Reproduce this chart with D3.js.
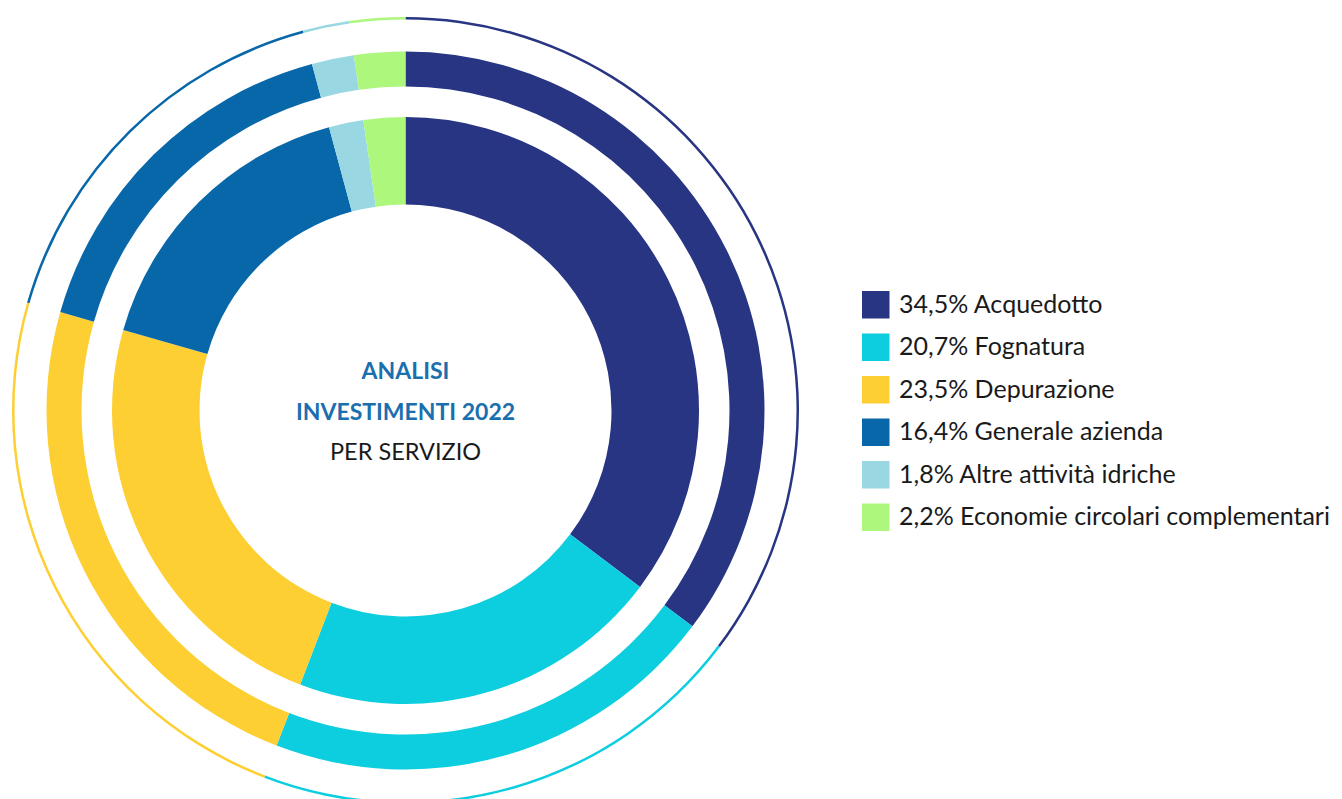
<!DOCTYPE html>
<html>
<head>
<meta charset="utf-8">
<script src="https://cdn.jsdelivr.net/npm/d3@7"></script>
<style>
  html, body { margin: 0; padding: 0; background: #fff; }
  svg { display: block; font-family: Lato, "Noto Sans", sans-serif; }
</style>
</head>
<body>
<svg id="chart" width="1342" height="799"></svg>
<script>
// categories and colours
const categories = ['Acquedotto', 'Fognatura', 'Depurazione', 'Generale azienda', 'Altre attività idriche', 'Economie circolari complementari'];
const colors = ['#283583', '#0dcedf', '#fdcf33', '#0867a9', '#99d8e2', '#adf77d'];
// percentages printed in the legend
const legendValues = [34.5, 20.7, 23.5, 16.4, 1.8, 2.2];
const sliceShares = [35.3, 20.6, 23.6, 16.4, 1.9, 2.3];
const titleLines = ['ANALISI', 'INVESTIMENTI 2022', 'PER SERVIZIO'];

const svg = d3.select('#chart');
const cx = 405.5, cy = 410.5;

const pie = d3.pie().sort(null).value(d => d.v);
const slices = pie(categories.map((c, i) => ({ name: c, v: sliceShares[i], color: colors[i] })));

// three rings: inner donut, middle band, outer hairline
const rings = [
  { inner: 206, outer: 293.5 },
  { inner: 324, outer: 359 },
  { inner: 391, outer: 393.5 }
];

const g = svg.append('g').attr('transform', `translate(${cx},${cy})`);

rings.forEach(function(r) {
  const arc = d3.arc().innerRadius(r.inner).outerRadius(r.outer);
  g.append('g').selectAll('path')
    .data(slices)
    .enter()
    .append('path')
    .attr('d', arc)
    .style('fill', d => d.data.color);
});

// centre title
const title = g.append('g');
title.selectAll('text')
  .data(titleLines)
  .enter()
  .append('text')
  .attr('x', 0)
  .attr('y', (d, i) => -31.5 + i * 40.5)
  .attr('text-anchor', 'middle')
  .style('font-size', (d, i) => i < 2 ? '23px' : '23.5px')
  .style('font-weight', (d, i) => i < 2 ? 700 : 400)
  .style('fill', (d, i) => i < 2 ? '#1b6fae' : '#1a1a1a')
  .text(d => d);

// legend
const fmt = v => d3.format('.1f')(v).replace('.', ',') + '%';
const legendRectSize = 27.5;
const legendSpacing = 42.5;

const legend = svg.append('g')
  .attr('transform', 'translate(862,291)')
  .selectAll('g')
  .data(categories)
  .enter()
  .append('g')
  .attr('transform', (d, i) => `translate(0,${i * legendSpacing})`);

legend.append('rect')
  .attr('width', legendRectSize)
  .attr('height', legendRectSize)
  .style('fill', (d, i) => colors[i]);

legend.append('text')
  .attr('x', 37)
  .attr('y', 21.5)
  .style('font-size', '25px')
  .style('fill', '#1a1a1a')
  .text((d, i) => fmt(legendValues[i]) + ' ' + d);
</script>
</body>
</html>
